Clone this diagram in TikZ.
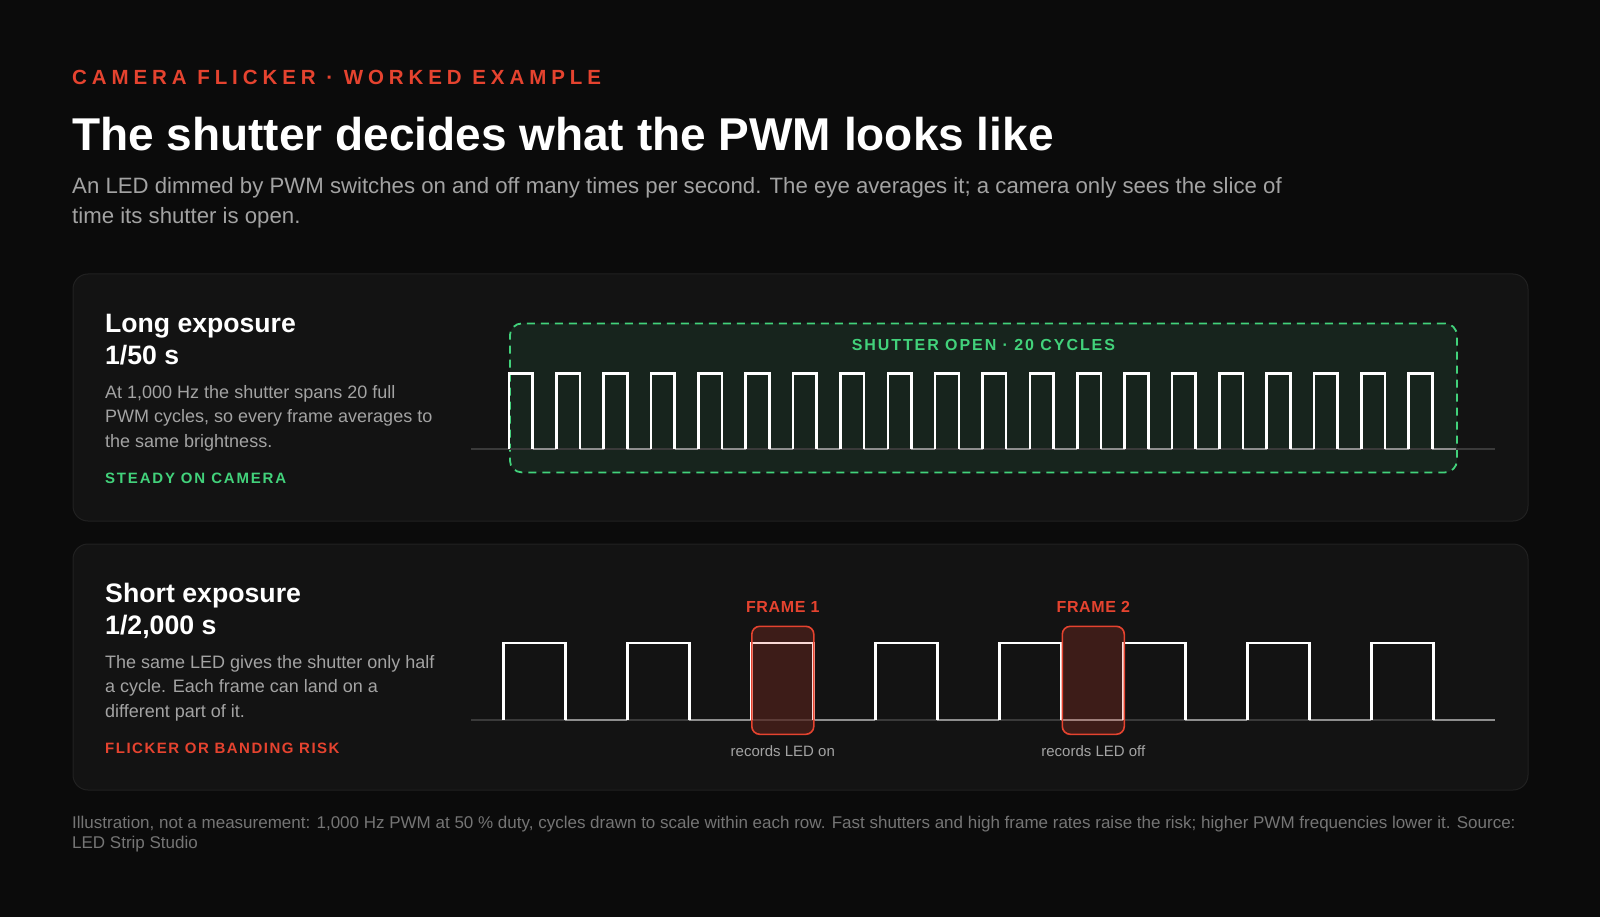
\documentclass[tikz,border=0pt]{standalone}
\usepackage{fontspec}
\setmainfont{Liberation Sans}
\usetikzlibrary{positioning}
\definecolor{bgc}{HTML}{0B0B0B}
\definecolor{cardc}{HTML}{131313}
\definecolor{edgec}{HTML}{212121}
\definecolor{flickred}{HTML}{E5432F}
\definecolor{okgreen}{HTML}{42D27B}
\definecolor{boxgreen}{HTML}{17241D}
\definecolor{bodygray}{HTML}{A3A3A3}
\definecolor{notegray}{HTML}{757575}
\definecolor{axisgray}{HTML}{3A3A3A}
\definecolor{lowgray}{HTML}{8E8E8E}
\newcommand{\pxfont}[2]{\fontsize{#1}{#2}\selectfont}

\begin{document}
\begin{tikzpicture}[x=1pt, y=-1pt,
    txt/.style={inner sep=0pt, anchor=base west, align=left},
    tag/.style={txt, font=\bfseries\pxfont{15}{18}\addfontfeature{LetterSpace=#1}},
    tag/.default=12,
    card/.style={draw=edgec, fill=cardc, line width=1pt, rounded corners=15pt,
      anchor=north west, minimum width=1455pt, inner sep=0pt},
    shutter/.style={draw=okgreen, fill=boxgreen, line width=1.8pt,
      dash pattern=on 8pt off 6pt, rounded corners=12pt, anchor=north west,
      minimum width=947pt, minimum height=149pt, inner sep=0pt},
    pulse/.style={white, line width=2.6pt},
    lowline/.style={lowgray, line width=1.8pt},
    axis/.style={axisgray, line width=1.5pt},
    frame/.style={draw=flickred, fill=flickred, fill opacity=.2, line width=1.6pt,
      rounded corners=8pt, anchor=north west, minimum width=62pt,
      minimum height=108pt, inner sep=0pt},
    framelbl/.style={inner sep=0pt, text=flickred,
      font=\bfseries\pxfont{16}{18}\addfontfeature{LetterSpace=4}},
    note/.style={inner sep=0pt, text=bodygray, font=\pxfont{15}{18}}]
    \fill[bgc] (0,0) rectangle (1600,917);
    \useasboundingbox (0,0) rectangle (1600,917);

    % heading (multi-line nodes sit on their last baseline)
    \node[txt, text=flickred, font=\bfseries\pxfont{20.5}{24}\addfontfeature{LetterSpace=24}]
      (eyebrow) at (72,85) {CAMERA FLICKER · WORKED EXAMPLE};
    \node[txt, text=white, font=\bfseries\pxfont{46}{50}]
      (title) at (72,151) {The shutter decides what the PWM looks like};
    \node[txt, text=bodygray, font=\pxfont{22.2}{29.5}] (lede) at (72,223.5)
      {An LED dimmed by PWM switches on and off many times per second. The eye averages it; a camera only sees the slice of\\time its shutter is open.};

    % long exposure row
    \path (72.5,273.5) node[card, minimum height=247pt](longcard){};
    \node[txt, text=white, font=\bfseries\pxfont{26.6}{32}] (longttl) at (105,364) {Long exposure\\1/50 s};
    \node[txt, text=bodygray, font=\pxfont{18}{24.5}] (longbody) at (105,447)
      {At 1,000 Hz the shutter spans 20 full\\PWM cycles, so every frame averages to\\the same brightness.};
    \node[tag, text=okgreen] (steady) at (105,483) {STEADY ON CAMERA};
    \node[shutter] (open) at (509,322.5) {};
    \node[anchor=base, inner sep=0pt, text=okgreen,
      font=\bfseries\pxfont{16}{18}\addfontfeature{LetterSpace=12}]
      (openlbl) at ([yshift=-27.5pt]open.north) {SHUTTER OPEN · 20 CYCLES};
    \draw[axis] (471,449) -- (1495,449);
    \foreach \i in {0,...,19}{
      \draw[lowline] (532.675+47.35*\i,449) -- ++(23.675,0);
      \draw[pulse] (509+47.35*\i,449) |- ++(23.675,-75.5) -- ++(0,75.5);
    }

    % short exposure row
    \path (72.5,543.5) node[card, minimum height=246pt](shortcard){};
    \node[txt, text=white, font=\bfseries\pxfont{26.7}{32}] (shortttl) at (105,634) {Short exposure\\1/2,000 s};
    \node[txt, text=bodygray, font=\pxfont{18}{24.5}] (shortbody) at (105,717)
      {The same LED gives the shutter only half\\a cycle. Each frame can land on a\\different part of it.};
    \node[tag=10, text=flickred] (risk) at (105,753) {FLICKER OR BANDING RISK};
    \draw[axis] (471,720) -- (1495,720);
    \foreach \i in {0,...,7}{
      \draw[lowline] (565.3+124*\i,720) -- ++(62,0);
      \draw[pulse] (503.3+124*\i,720) |- ++(62,-77) -- ++(0,77);
    }
    \node[frame] (f1) at (751,625.5) {};
    \node[frame] (f2) at (1061.5,625.5) {};
    \node[framelbl, above=12.6pt of f1] (f1lbl) {FRAME 1};
    \node[framelbl, above=12.6pt of f2] (f2lbl) {FRAME 2};
    \node[note, below=10.5pt of f1] (f1note) {records LED on};
    \node[note, below=10.5pt of f2] (f2note) {records LED off};

    % footnote
    \node[txt, text=notegray, font=\pxfont{17}{19.8}] (source) at (72,848.4)
      {Illustration, not a measurement: 1,000 Hz PWM at 50 \% duty, cycles drawn to scale within each row. Fast shutters and high frame rates raise the risk; higher PWM frequencies lower it. Source:\\LED Strip Studio};
\end{tikzpicture}
\end{document}
